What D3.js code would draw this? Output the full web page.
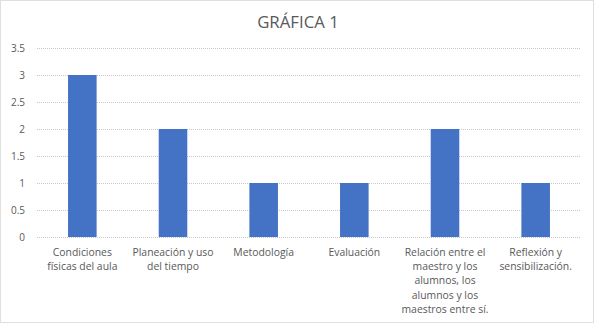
<!DOCTYPE html>
<html>
<head>
<meta charset="utf-8">
<script src="https://cdn.jsdelivr.net/npm/d3@7"></script>
<style>
  html, body { margin: 0; padding: 0; background: #fff; }
  svg { display: block; font-family: "Open Sans", "Liberation Sans", sans-serif; }
</style>
</head>
<body>
<svg id="chart" width="597" height="325"></svg>
<script>
// Chart data
const title = "GRÁFICA 1";
const categories = [
  "Condiciones físicas del aula",
  "Planeación y uso del tiempo",
  "Metodología",
  "Evaluación",
  "Relación entre el maestro y los alumnos, los alumnos y los maestros entre sí.",
  "Reflexión y sensibilización."
];
// Category labels as they wrap under each bar
const categoryLines = [
  ["Condiciones", "físicas del aula"],
  ["Planeación y uso", "del tiempo"],
  ["Metodología"],
  ["Evaluación"],
  ["Relación entre el", "maestro y los", "alumnos, los", "alumnos y los", "maestros entre sí."],
  ["Reflexión y", "sensibilización."]
];
const values = [3, 2, 1, 1, 2, 1];
const yTicks = [0, 0.5, 1, 1.5, 2, 2.5, 3, 3.5];

const svg = d3.select("#chart");
const W = 597, H = 325;

// Outer dotted frame
svg.append("rect")
  .attr("x", 0.5).attr("y", 0.5)
  .attr("width", W - 4).attr("height", H - 3)
  .attr("fill", "#fff")
  .attr("stroke", "#bfbfbf")
  .attr("stroke-dasharray", "1,1");

const plot = { left: 37, right: 581, top: 48, bottom: 237 };

const x = d3.scaleBand()
  .domain(categories)
  .range([plot.left, plot.right])
  .padding(0);

const y = d3.scaleLinear()
  .domain([0, 3.5])
  .range([plot.bottom, plot.top]);

// Title
svg.append("text")
  .attr("x", 298).attr("y", 28)
  .attr("text-anchor", "middle")
  .attr("font-size", 16.8)
  .attr("fill", "#595959")
  .text(title);

// Gridlines
svg.append("g")
  .selectAll("line")
  .data(yTicks)
  .join("line")
  .attr("x1", plot.left).attr("x2", plot.right)
  .attr("y1", d => Math.round(y(d)) + 0.5)
  .attr("y2", d => Math.round(y(d)) + 0.5)
  .attr("stroke", "#c8c8c8")
  .attr("stroke-dasharray", "1,1");

// Y axis labels
const yAxis = d3.axisLeft(y)
  .tickValues(yTicks)
  .tickSize(0)
  .tickPadding(0)
  .tickFormat(d3.format("~g"));
const gy = svg.append("g")
  .attr("transform", `translate(${plot.left - 12},0)`)
  .call(yAxis);
gy.select(".domain").remove();
gy.selectAll("text")
  .attr("font-size", 10)
  .attr("font-family", "'Open Sans', 'Liberation Sans', sans-serif")
  .attr("fill", "#595959");

// Bars
const barFrac = 0.315;
svg.append("g")
  .selectAll("rect")
  .data(values)
  .join("rect")
  .attr("x", (d, i) => x(categories[i]) + x.bandwidth() * (1 - barFrac) / 2)
  .attr("width", x.bandwidth() * barFrac)
  .attr("y", d => y(d))
  .attr("height", d => y(0) - y(d))
  .attr("fill", "#4472c4");

// Category labels
const xl = svg.append("g");
categoryLines.forEach((lines, i) => {
  const cx = x(categories[i]) + x.bandwidth() / 2;
  const t = xl.append("text")
    .attr("text-anchor", "middle")
    .attr("font-size", 10.4)
    .attr("fill", "#595959");
  lines.forEach((ln, j) => {
    t.append("tspan")
      .attr("x", cx)
      .attr("y", 256 + j * 14.2)
      .text(ln);
  });
});
</script>
</body>
</html>
